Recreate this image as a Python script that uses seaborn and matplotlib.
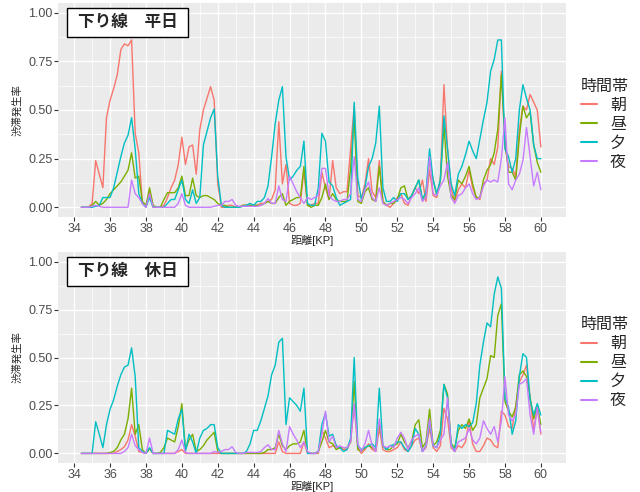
import numpy as np
import pandas as pd
import matplotlib
matplotlib.use("Agg")
import matplotlib.pyplot as plt
from matplotlib.patches import Rectangle
import seaborn as sns

# distance grid [KP]
kp = np.round(np.arange(34.4, 60.01, 0.2), 1)
groups = ["朝", "昼", "夕", "夜"]
colors = ["#F8766D", "#7CAE00", "#00BFC4", "#C77CFF"]

# 下り線 平日
wd_asa = [0, 0, 0,
          0.02, 0.24, 0.17, 0.10, 0.46,
          0.55, 0.61, 0.68, 0.81, 0.84,
          0.83, 0.86, 0.38, 0.28, 0.02,
          0.0, 0.08, 0.0, 0.0, 0.0,
          0.01, 0.05, 0.10, 0.14, 0.22,
          0.36, 0.22, 0.31, 0.32, 0.17,
          0.40, 0.50, 0.56, 0.62, 0.55,
          0.12, 0.0, 0.0, 0.01, 0.01,
          0.0, 0.0, 0.01, 0.01, 0.01,
          0.01, 0.01, 0.02, 0.02, 0.03,
          0.04, 0.09, 0.44, 0.12, 0.22,
          0.02, 0.01, 0.01, 0.02, 0.19,
          0.01, 0.01, 0.02, 0.02, 0.18,
          0.10, 0.04, 0.24, 0.10, 0.07,
          0.08, 0.08, 0.30, 0.52, 0.06,
          0.05, 0.12, 0.25, 0.08, 0.05,
          0.24, 0.03, 0.01, 0.0, 0.02,
          0.05, 0.07, 0.02, 0.01, 0.06,
          0.10, 0.07, 0.14, 0.03, 0.19,
          0.06, 0.05, 0.14, 0.63, 0.30,
          0.10, 0.03, 0.09, 0.12, 0.10,
          0.19, 0.10, 0.05, 0.04, 0.12,
          0.14, 0.25, 0.22, 0.31, 0.70,
          0.31, 0.21, 0.20, 0.16, 0.40,
          0.52, 0.50, 0.58, 0.54, 0.50,
          0.31]
wd_hiru = [0, 0, 0,
           0.01, 0.03, 0.01, 0.02, 0.04,
           0.07, 0.09, 0.11, 0.13, 0.16,
           0.19, 0.28, 0.15, 0.16, 0.03,
           0.01, 0.10, 0.01, 0.0, 0.0,
           0.04, 0.075, 0.075, 0.075, 0.10,
           0.16, 0.06, 0.06, 0.15, 0.06,
           0.05, 0.06, 0.06, 0.05, 0.04,
           0.02, 0.01, 0.01, 0.0, 0.0,
           0.0, 0.0, 0.01, 0.01, 0.01,
           0.01, 0.01, 0.01, 0.02, 0.03,
           0.02, 0.02, 0.05, 0.07, 0.01,
           0.03, 0.04, 0.05, 0.05, 0.21,
           0.01, 0.0, 0.01, 0.01, 0.05,
           0.12, 0.04, 0.07, 0.04, 0.03,
           0.03, 0.03, 0.20, 0.47, 0.03,
           0.02, 0.08, 0.10, 0.04, 0.03,
           0.21, 0.03, 0.01, 0.02, 0.02,
           0.04, 0.10, 0.11, 0.04, 0.06,
           0.10, 0.14, 0.04, 0.07, 0.245,
           0.14, 0.06, 0.14, 0.42, 0.16,
           0.06, 0.04, 0.14, 0.12, 0.16,
           0.21, 0.12, 0.05, 0.05, 0.14,
           0.19, 0.22, 0.28, 0.40, 0.68,
           0.35, 0.18, 0.18, 0.14, 0.36,
           0.52, 0.46, 0.49, 0.32, 0.23,
           0.18]
wd_yu = [0, 0, 0,
         0.0, 0.005, 0.01, 0.05, 0.05,
         0.05, 0.10, 0.18, 0.26, 0.33,
         0.37, 0.46, 0.30, 0.07, 0.02,
         0.0, 0.05, 0.0, 0.0, 0.0,
         0.0, 0.02, 0.04, 0.04, 0.09,
         0.14, 0.04, 0.02, 0.09, 0.02,
         0.05, 0.32, 0.39, 0.46, 0.505,
         0.16, 0.01, 0.0, 0.0, 0.0,
         0.0, 0.0, 0.005, 0.01, 0.02,
         0.01, 0.03, 0.03, 0.05, 0.11,
         0.26, 0.43, 0.55, 0.62, 0.26,
         0.14, 0.16, 0.19, 0.21, 0.34,
         0.02, 0.01, 0.01, 0.10, 0.38,
         0.34, 0.13, 0.11, 0.05, 0.01,
         0.02, 0.03, 0.04, 0.54, 0.15,
         0.04, 0.10, 0.21, 0.25, 0.33,
         0.52, 0.10, 0.03, 0.03, 0.05,
         0.03, 0.07, 0.07, 0.04, 0.06,
         0.10, 0.14, 0.04, 0.08, 0.30,
         0.14, 0.07, 0.14, 0.47, 0.30,
         0.12, 0.06, 0.17, 0.21, 0.27,
         0.34, 0.29, 0.25, 0.35, 0.45,
         0.54, 0.70, 0.76, 0.86, 0.86,
         0.30, 0.26, 0.18, 0.25, 0.50,
         0.63, 0.56, 0.50, 0.32, 0.25,
         0.25]
wd_yoru = [0, 0, 0,
           0.005, 0.01, 0.005, 0.0, 0.0,
           0.0, 0.0, 0.0, 0.0, 0.0,
           0.0, 0.14, 0.07, 0.05, 0.02,
           0.0, 0.07, 0.0, 0.0, 0.0,
           0.0, 0.0, 0.0, 0.0, 0.02,
           0.07, 0.01, 0.0, 0.0, 0.0,
           0.0, 0.0, 0.0, 0.0, 0.005,
           0.01, 0.01, 0.03, 0.03, 0.04,
           0.01, 0.005, 0.005, 0.005, 0.005,
           0.005, 0.005, 0.01, 0.02, 0.045,
           0.02, 0.02, 0.11, 0.04, 0.03,
           0.16, 0.12, 0.08, 0.05, 0.02,
           0.05, 0.04, 0.05, 0.06, 0.20,
           0.20, 0.06, 0.04, 0.03, 0.03,
           0.04, 0.04, 0.07, 0.26, 0.04,
           0.03, 0.09, 0.13, 0.05, 0.03,
           0.10, 0.02, 0.01, 0.02, 0.03,
           0.04, 0.05, 0.04, 0.02, 0.05,
           0.07, 0.10, 0.03, 0.05, 0.26,
           0.07, 0.06, 0.11, 0.14, 0.23,
           0.05, 0.02, 0.06, 0.07, 0.10,
           0.12, 0.07, 0.04, 0.05, 0.11,
           0.14, 0.13, 0.14, 0.13, 0.25,
           0.46, 0.12, 0.09, 0.14, 0.17,
           0.24, 0.41, 0.26, 0.11, 0.18,
           0.09]

# 下り線 休日
hd_asa = [0, 0, 0,
          0.0, 0.0, 0.0, 0.0, 0.0,
          0.0, 0.0, 0.01, 0.02, 0.035,
          0.07, 0.15, 0.09, 0.01, 0.005,
          0.0, 0.025, 0.0, 0.0, 0.0,
          0.0, 0.0, 0.0, 0.0, 0.01,
          0.02, 0.0, 0.0, 0.0, 0.0,
          0.0, 0.0, 0.0, 0.0, 0.0,
          0.0, 0.0, 0.0, 0.0, 0.0,
          0.0, 0.0, 0.0, 0.0, 0.0,
          0.0, 0.0, 0.0, 0.0, 0.0,
          0.0, 0.0, 0.06, 0.01, 0.0,
          0.0, 0.0, 0.0, 0.0, 0.06,
          0.0, 0.0, 0.0, 0.0, 0.12,
          0.08, 0.03, 0.04, 0.03, 0.03,
          0.02, 0.02, 0.06, 0.25, 0.03,
          0.0, 0.02, 0.05, 0.02, 0.01,
          0.13, 0.02, 0.01, 0.01, 0.02,
          0.03, 0.06, 0.02, 0.01, 0.04,
          0.07, 0.08, 0.01, 0.03, 0.13,
          0.03, 0.01, 0.04, 0.235, 0.18,
          0.03, 0.01, 0.04, 0.03, 0.06,
          0.17, 0.05, 0.01, 0.01, 0.04,
          0.08, 0.07, 0.04, 0.03, 0.22,
          0.20, 0.14, 0.13, 0.25, 0.37,
          0.41, 0.46, 0.29, 0.12, 0.24,
          0.10]
hd_hiru = [0, 0, 0,
           0.0, 0.0, 0.0, 0.0, 0.0,
           0.005, 0.01, 0.03, 0.07, 0.10,
           0.18, 0.34, 0.10, 0.15, 0.02,
           0.0, 0.025, 0.0, 0.0, 0.005,
           0.03, 0.08, 0.07, 0.06, 0.14,
           0.26, 0.02, 0.07, 0.10, 0.01,
           0.02, 0.04, 0.07, 0.09, 0.11,
           0.01, 0.0, 0.0, 0.0, 0.0,
           0.0, 0.0, 0.0, 0.0, 0.0,
           0.0, 0.0, 0.0, 0.005, 0.02,
           0.02, 0.03, 0.10, 0.04, 0.02,
           0.04, 0.05, 0.05, 0.06, 0.12,
           0.005, 0.0, 0.0, 0.01, 0.06,
           0.12, 0.06, 0.05, 0.02, 0.03,
           0.03, 0.03, 0.06, 0.375, 0.02,
           0.01, 0.03, 0.04, 0.03, 0.02,
           0.16, 0.04, 0.02, 0.02, 0.04,
           0.05, 0.10, 0.06, 0.03, 0.06,
           0.15, 0.175, 0.03, 0.06, 0.23,
           0.04, 0.06, 0.12, 0.36, 0.31,
           0.05, 0.03, 0.12, 0.15, 0.13,
           0.18, 0.12, 0.15, 0.29, 0.34,
           0.39, 0.51, 0.50, 0.72, 0.78,
           0.27, 0.22, 0.19, 0.24, 0.41,
           0.43, 0.40, 0.29, 0.18, 0.25,
           0.15]
hd_yu = [0, 0, 0,
         0.0, 0.165, 0.10, 0.03, 0.15,
         0.23, 0.28, 0.35, 0.41, 0.45,
         0.46, 0.55, 0.40, 0.03, 0.01,
         0.0, 0.03, 0.0, 0.0, 0.0,
         0.0, 0.12, 0.11, 0.10, 0.18,
         0.23, 0.01, 0.10, 0.06, 0.0,
         0.08, 0.12, 0.13, 0.15, 0.15,
         0.03, 0.0, 0.0, 0.0, 0.0,
         0.0, 0.0, 0.0, 0.01, 0.05,
         0.12, 0.12, 0.17, 0.235, 0.30,
         0.41, 0.46, 0.58, 0.60, 0.15,
         0.29, 0.27, 0.25, 0.22, 0.34,
         0.0, 0.0, 0.0, 0.01, 0.15,
         0.21, 0.09, 0.10, 0.04, 0.03,
         0.01, 0.02, 0.08, 0.50, 0.04,
         0.02, 0.03, 0.04, 0.05, 0.03,
         0.34, 0.04, 0.02, 0.04, 0.045,
         0.06, 0.06, 0.03, 0.01, 0.04,
         0.13, 0.10, 0.01, 0.04, 0.165,
         0.04, 0.03, 0.10, 0.36, 0.29,
         0.05, 0.01, 0.15, 0.13, 0.15,
         0.14, 0.16, 0.26, 0.46, 0.58,
         0.68, 0.66, 0.83, 0.92, 0.86,
         0.29, 0.24, 0.10, 0.17, 0.40,
         0.52, 0.50, 0.28, 0.20, 0.26,
         0.20]
hd_yoru = [0, 0, 0,
           0.0, 0.0, 0.0, 0.0, 0.0,
           0.0, 0.0, 0.0, 0.0, 0.01,
           0.03, 0.10, 0.04, 0.02, 0.005,
           0.0, 0.08, 0.0, 0.0, 0.0,
           0.0, 0.0, 0.0, 0.0, 0.02,
           0.07, 0.005, 0.0, 0.0, 0.0,
           0.0, 0.0, 0.0, 0.0, 0.01,
           0.005, 0.01, 0.02, 0.02, 0.035,
           0.005, 0.0, 0.0, 0.005, 0.005,
           0.005, 0.005, 0.01, 0.03, 0.045,
           0.02, 0.02, 0.12, 0.05, 0.01,
           0.14, 0.10, 0.07, 0.03, 0.06,
           0.01, 0.0, 0.0, 0.01, 0.10,
           0.22, 0.06, 0.09, 0.03, 0.04,
           0.03, 0.03, 0.06, 0.26, 0.05,
           0.01, 0.05, 0.12, 0.04, 0.01,
           0.18, 0.04, 0.03, 0.04, 0.03,
           0.08, 0.11, 0.08, 0.02, 0.07,
           0.09, 0.10, 0.01, 0.04, 0.18,
           0.04, 0.03, 0.07, 0.10, 0.29,
           0.04, 0.01, 0.06, 0.07, 0.08,
           0.13, 0.07, 0.05, 0.08, 0.17,
           0.13, 0.10, 0.14, 0.06, 0.17,
           0.40, 0.20, 0.17, 0.20, 0.36,
           0.37, 0.39, 0.20, 0.10, 0.24,
           0.11]

panel_titles = ["下り線　平日", "下り線　休日"]
x_ticks = list(range(34, 61, 2))
y_ticks = [0.0, 0.25, 0.5, 0.75, 1.0]


def to_long(series):
    frames = []
    for g, vals in zip(groups, series):
        frames.append(pd.DataFrame({"距離": kp, "渋滞発生率": vals, "時間帯": g}))
    return pd.concat(frames, ignore_index=True)


sns.set_theme(style="darkgrid", rc={
    "axes.facecolor": "#EBEBEB",
    "grid.color": "white",
    "figure.facecolor": "white",
})
plt.rcParams["font.family"] = ["Liberation Sans", "Noto Sans CJK JP"]

fig = plt.figure(figsize=(6.4, 4.92), dpi=100)
ax_top = fig.add_axes([58 / 640, 1 - 217 / 492, 508 / 640, 214 / 492])
ax_bot = fig.add_axes([58 / 640, 1 - 463 / 492, 508 / 640, 211 / 492])

datasets = [to_long([wd_asa, wd_hiru, wd_yu, wd_yoru]),
            to_long([hd_asa, hd_hiru, hd_yu, hd_yoru])]
legend_y = [0.432, 0.475]

for ax, df, title, ly in zip([ax_top, ax_bot], datasets, panel_titles, legend_y):
    sns.lineplot(data=df, x="距離", y="渋滞発生率", hue="時間帯",
                 hue_order=groups, palette=colors, linewidth=1.0, ax=ax)
    ax.set_xlim(33.1, 61.4)
    ax.set_ylim(-0.05, 1.05)
    ax.set_xticks(x_ticks)
    ax.set_yticks(y_ticks)
    ax.set_yticklabels(["0.00", "0.25", "0.50", "0.75", "1.00"])
    ax.set_xticks(np.arange(35, 61, 2), minor=True)
    ax.set_yticks([0.125, 0.375, 0.625, 0.875], minor=True)
    ax.grid(which="major", color="white", linewidth=1.0)
    ax.grid(which="minor", color="white", linewidth=0.5)
    for s in ax.spines.values():
        s.set_visible(False)
    ax.tick_params(which="major", length=3, width=0.8, color="#333333",
                   labelsize=9, labelcolor="#4D4D4D", pad=1, bottom=True, left=True)
    ax.tick_params(which="minor", length=0)
    ax.set_xlabel("距離[KP]", fontsize=8, labelpad=0)
    ax.set_ylabel("渋滞発生率", fontsize=7.5, labelpad=4)

    handles, labels = ax.get_legend_handles_labels()
    leg = ax.legend(handles, labels, title="時間帯", loc="center left",
                    bbox_to_anchor=(1.03, ly), frameon=False, fontsize=11.5,
                    title_fontsize=11.5, handlelength=1.0, handletextpad=0.8,
                    labelspacing=0.25, borderpad=0, borderaxespad=0,
                    alignment="left")
    for line in leg.get_lines():
        line.set_linewidth(1.5)

    ax.add_patch(Rectangle((0.018, 0.841), 0.238, 0.136, transform=ax.transAxes,
                           facecolor="white", edgecolor="black", linewidth=1.0,
                           zorder=5))
    ax.text(0.137, 0.909, title, transform=ax.transAxes, ha="center", va="center",
            fontsize=12, fontweight="bold", zorder=6,
            family=["Noto Sans CJK JP"])

fig.savefig("out.png", dpi=100)
